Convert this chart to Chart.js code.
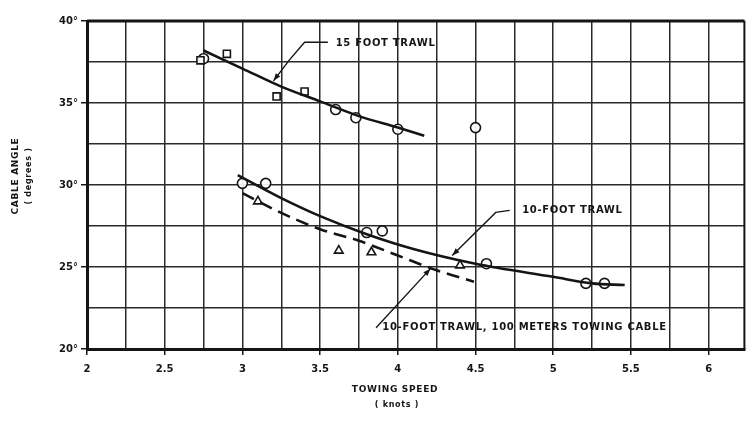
<!DOCTYPE html>
<html>
<head>
<meta charset="utf-8">
<script src="https://cdn.jsdelivr.net/npm/chart.js@4/dist/chart.umd.min.js"></script>
<style>
  body { margin: 0; background: #fff; }
  #wrap { width: 751px; height: 423px; }
</style>
</head>
<body>
<div id="wrap"><canvas id="myChart" width="751" height="423"></canvas></div>
<script>
// towing speed (knots) / cable angle (degrees)
const ft15SquaresX = [2.73, 2.9, 3.22, 3.4];
const ft15SquaresY = [37.6, 38.0, 35.4, 35.7];
const ft15CirclesX = [2.75, 3.6, 3.73, 4.0, 4.5];
const ft15CirclesY = [37.7, 34.6, 34.1, 33.4, 33.5];
const ft15CurveX = [2.75, 3.0, 3.25, 3.5, 3.75, 4.0, 4.17];
const ft15CurveY = [38.2, 37.1, 36.0, 35.1, 34.2, 33.5, 33.0];

const ft10CirclesX = [3.0, 3.15, 3.8, 3.9, 4.57, 5.21, 5.33];
const ft10CirclesY = [30.1, 30.1, 27.1, 27.2, 25.2, 24.0, 24.0];
const ft10CurveX = [2.97, 3.25, 3.5, 3.8, 4.1, 4.5, 5.0, 5.25, 5.46];
const ft10CurveY = [30.6, 29.2, 28.1, 27.0, 26.1, 25.2, 24.4, 24.0, 23.9];

const cableTriX = [3.1, 3.62, 3.83, 4.4];
const cableTriY = [29.0, 26.0, 25.9, 25.1];
const cableCurveX = [3.0, 3.25, 3.5, 3.75, 4.0, 4.25, 4.49];
const cableCurveY = [29.5, 28.3, 27.3, 26.6, 25.7, 24.8, 24.1];

const xTicks = [2, 2.5, 3, 3.5, 4, 4.5, 5, 5.5, 6];
const yTicks = [20, 25, 30, 35, 40];

function pts(xs, ys) {
  return xs.map((x, i) => ({ x: x, y: ys[i] }));
}

const INK = '#151515';

function marks(label, xs, ys, style, size) {
  return {
    label: label, data: pts(xs, ys), showLine: false,
    pointStyle: style, pointRadius: size, pointBorderColor: INK,
    pointBackgroundColor: 'rgba(255,255,255,0.9)', pointBorderWidth: 1.6
  };
}

function curve(label, xs, ys, dash) {
  return {
    label: label, data: pts(xs, ys), showLine: true, pointRadius: 0,
    borderColor: INK, borderWidth: 2.6, borderDash: dash,
    cubicInterpolationMode: 'monotone', fill: false
  };
}

// labels with their leader lines, in data units
const notes = [
  { text: '15 FOOT TRAWL', x: 3.6, y: 38.66, line: [[3.55, 38.7], [3.4, 38.7], [3.3, 37.6], [3.2, 36.35]] },
  { text: '10-FOOT TRAWL', x: 4.8, y: 28.45, line: [[4.72, 28.45], [4.63, 28.33], [4.35, 25.7]] },
  { text: '10-FOOT TRAWL, 100 METERS TOWING CABLE', x: 3.9, y: 21.3, line: [[3.86, 21.3], [4.21, 24.9]] }
];

const figureText = {
  id: 'figureText',
  afterDraw(chart) {
    const ctx = chart.ctx, a = chart.chartArea;
    const xs = chart.scales.x, ys = chart.scales.y;
    ctx.save();
    // top and right frame
    ctx.strokeStyle = INK;
    ctx.lineWidth = 3;
    ctx.beginPath(); ctx.moveTo(a.left, a.top); ctx.lineTo(a.right, a.top); ctx.stroke();
    ctx.lineWidth = 2;
    ctx.beginPath(); ctx.moveTo(a.right, a.top); ctx.lineTo(a.right, a.bottom); ctx.stroke();

    ctx.fillStyle = INK;
    ctx.font = 'bold 10px "DejaVu Sans"';
    ctx.textBaseline = 'middle';
    ctx.textAlign = 'left';
    ctx.letterSpacing = '0.7px';
    notes.forEach(n => {
      ctx.fillText(n.text, xs.getPixelForValue(n.x), ys.getPixelForValue(n.y));
      const p = n.line.map(q => [xs.getPixelForValue(q[0]), ys.getPixelForValue(q[1])]);
      ctx.lineWidth = 1.4;
      ctx.beginPath();
      ctx.moveTo(p[0][0], p[0][1]);
      for (let i = 1; i < p.length; i++) ctx.lineTo(p[i][0], p[i][1]);
      ctx.stroke();
      // arrow head
      const e = p[p.length - 1], s = p[p.length - 2];
      const ang = Math.atan2(e[1] - s[1], e[0] - s[0]);
      ctx.beginPath();
      ctx.moveTo(e[0], e[1]);
      ctx.lineTo(e[0] - 8 * Math.cos(ang - 0.35), e[1] - 8 * Math.sin(ang - 0.35));
      ctx.lineTo(e[0] - 8 * Math.cos(ang + 0.35), e[1] - 8 * Math.sin(ang + 0.35));
      ctx.closePath();
      ctx.fill();
    });

    // axis titles
    ctx.textAlign = 'center';
    ctx.font = 'bold 9px "DejaVu Sans"';
    ctx.fillText('TOWING SPEED', 395, 390);
    ctx.font = 'bold 8px "DejaVu Sans"';
    ctx.fillText('( knots )', 397, 405);
    ctx.translate(16, 176);
    ctx.rotate(-Math.PI / 2);
    ctx.font = 'bold 9px "DejaVu Sans"';
    ctx.fillText('CABLE ANGLE', 0, 0);
    ctx.font = 'bold 8px "DejaVu Sans"';
    ctx.fillText('( degrees )', 0, 13);
    ctx.restore();
  }
};

const ctx = document.getElementById('myChart').getContext('2d');
const chart = new Chart(ctx, {
  type: 'scatter',
  data: {
    datasets: [
      curve('15-foot trawl', ft15CurveX, ft15CurveY, []),
      marks('15-foot squares', ft15SquaresX, ft15SquaresY, 'rect', 5),
      marks('15-foot circles', ft15CirclesX, ft15CirclesY, 'circle', 5),
      curve('10-foot trawl', ft10CurveX, ft10CurveY, []),
      marks('10-foot circles', ft10CirclesX, ft10CirclesY, 'circle', 5),
      curve('10-foot trawl, 100 m cable', cableCurveX, cableCurveY, [13, 7]),
      marks('10-foot trawl, 100 m cable points', cableTriX, cableTriY, 'triangle', 5)
    ]
  },
  options: {
    responsive: false,
    animation: false,
    layout: { padding: { top: 21, right: -1, left: 0, bottom: 0 } },
    plugins: { legend: { display: false }, tooltip: { enabled: false } },
    scales: {
      x: {
        type: 'linear', min: 2, max: 6.23,
        afterFit: s => { s.height = 74; },
        afterBuildTicks: s => { s.ticks = []; for (let v = 2; v <= 6.23; v += 0.25) s.ticks.push({ value: Math.round(v * 100) / 100 }); },
        ticks: {
          autoSkip: false, maxRotation: 0, padding: 8, color: INK,
          font: { family: 'DejaVu Sans', size: 10, weight: 'bold' },
          callback: v => xTicks.includes(v) ? String(v) : ''
        },
        grid: {
          color: '#2a2a2a', lineWidth: 1.5, tickLength: 6,
          tickColor: c => xTicks.includes(c.tick.value) ? INK : 'rgba(0,0,0,0)'
        },
        border: { color: INK, width: 3 }
      },
      y: {
        type: 'linear', min: 20, max: 40,
        afterFit: s => { s.width = 87; },
        afterBuildTicks: s => { s.ticks = []; for (let v = 20; v <= 40; v += 2.5) s.ticks.push({ value: v }); },
        ticks: {
          color: INK, padding: 3,
          font: { family: 'DejaVu Sans', size: 10, weight: 'bold' },
          callback: v => yTicks.includes(v) ? v + '°' : ''
        },
        grid: {
          color: '#2a2a2a', lineWidth: 1.5, tickLength: 6,
          tickColor: c => yTicks.includes(c.tick.value) ? INK : 'rgba(0,0,0,0)'
        },
        border: { color: INK, width: 3 }
      }
    }
  },
  plugins: [figureText]
});
</script>
</body>
</html>
